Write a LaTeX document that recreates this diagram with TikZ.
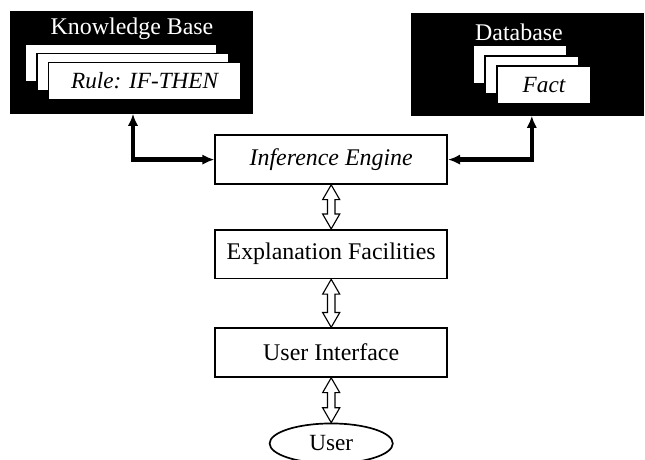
\documentclass[tikz,border=0pt]{standalone}
\usepackage{fontspec}
\setmainfont{Liberation Serif}
\usepackage{tikz}
\usetikzlibrary{arrows.meta,positioning,calc,shapes.geometric,shapes.arrows}
\definecolor{esBlack}{RGB}{0,0,0}
\definecolor{esWhite}{RGB}{255,255,255}
\newcommand{\boxfont}{\fontsize{17}{19}\selectfont}
\newcommand{\cardfont}{\fontsize{16.5}{18}\selectfont}

\begin{document}
\begin{tikzpicture}[
    node distance=1.1cm,
    mainbox/.style={rectangle, draw=esBlack, line width=1.2pt, fill=esWhite, minimum width=5.8cm, minimum height=1.22cm, inner sep=1pt, align=center, font=\boxfont},
    storebox/.style={rectangle, fill=esBlack, draw=esBlack, minimum height=2.55cm},
    storetitle/.style={text=esWhite, font=\boxfont},
    card/.style={rectangle, draw=esBlack, line width=1pt, fill=esWhite, minimum height=0.94cm, font=\cardfont\itshape},
    userbox/.style={ellipse, draw=esBlack, line width=1.2pt, fill=esWhite, minimum width=3.08cm, minimum height=1cm, inner sep=1pt, font=\cardfont},
    bigarrow/.style={{Latex[length=3mm,width=2.6mm]}-{Latex[length=3mm,width=2.6mm]}, line width=3pt, draw=esBlack},
    dblarrow/.style={double arrow, draw=esBlack, line width=0.8pt, fill=esWhite, rotate=90, inner xsep=0pt, inner ysep=0.08cm, minimum width=0pt, double arrow head extend=0.12cm, double arrow tip angle=60}
]
\useasboundingbox (0,0) rectangle (16.125,-11.475);
\node[storebox, minimum width=6.05cm] (kb) at (3.275,-1.5625) {};
\node[storetitle] (kbtitle) at (3.3,-0.72) {Knowledge Base};
\foreach \i in {0,1,2}
  \node[card, minimum width=4.8cm] (kr\i) at ($(3.025,-1.575)+(\i*0.295,-\i*0.225)$) {};
\node[font=\cardfont\itshape] (rule) at (kr2) {Rule: IF-THEN};
\node[storebox, minimum width=5.8cm] (db) at (13.175,-1.6125) {};
\node[storetitle] (dbtitle) at (12.975,-0.82) {Database};
\foreach \i in {0,1,2}
  \node[card, minimum width=2.35cm] (df\i) at ($(13.0,-1.6125)+(\i*0.3,-\i*0.255)$) {};
\node[font=\cardfont\itshape] (fact) at (df2) {Fact};
\node[mainbox, font=\boxfont\itshape] (ie) at (8.28,-3.99) {Inference Engine};
\node[mainbox, below=1.1cm of ie] (ef) {Explanation Facilities};
\node[mainbox, below=1.2cm of ef] (ui) {User Interface};
\node[userbox, below=1.12cm of ui] (user) {User};
\draw[bigarrow] (ie.west) -| ([xshift=0.05cm]kb.south);
\draw[bigarrow] (ie.east) -| ([xshift=0.12cm]db.south);
\path let \p1=($(ie.south)-(ef.north)$) in node[dblarrow, minimum height=\y1] (a1) at ($(ie.south)!0.5!(ef.north)$) {};
\path let \p1=($(ef.south)-(ui.north)$) in node[dblarrow, minimum height=\y1] (a2) at ($(ef.south)!0.5!(ui.north)$) {};
\path let \p1=($(ui.south)-(user.north)$) in node[dblarrow, minimum height=\y1] (a3) at ($(ui.south)!0.5!(user.north)$) {};
\end{tikzpicture}
\end{document}
